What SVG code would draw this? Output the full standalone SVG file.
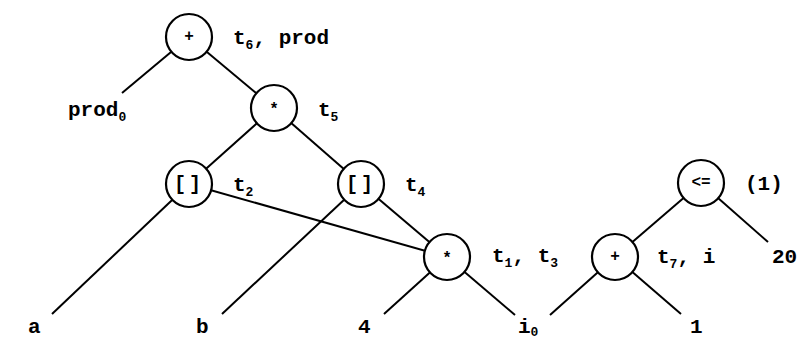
<svg xmlns="http://www.w3.org/2000/svg" width="797" height="341" viewBox="0 0 797 341">
<style>
.e{stroke:#000;stroke-width:2;fill:none}
.n circle{fill:#fff;stroke:#000;stroke-width:2.2}
.op{font-family:"Liberation Mono",monospace;font-weight:bold;font-size:16px;text-anchor:middle;dominant-baseline:central}
.t{font-family:"Liberation Mono",monospace;font-weight:bold;font-size:21px;fill:#000}
.s{font-size:13px}
</style>
<rect width="797" height="341" fill="#fff"/>
<g id="edges">
<line class="e" x1="189" y1="37" x2="122" y2="93"/>
<line class="e" x1="189" y1="37" x2="274" y2="108"/>
<line class="e" x1="274" y1="108" x2="189" y2="184"/>
<line class="e" x1="274" y1="108" x2="361" y2="184"/>
<line class="e" x1="189" y1="184" x2="52" y2="314"/>
<line class="e" x1="189" y1="184" x2="447" y2="257"/>
<line class="e" x1="361" y1="184" x2="222" y2="314"/>
<line class="e" x1="361" y1="184" x2="447" y2="257"/>
<line class="e" x1="447" y1="257" x2="384" y2="314"/>
<line class="e" x1="447" y1="257" x2="515" y2="315"/>
<line class="e" x1="615" y1="257" x2="550" y2="315"/>
<line class="e" x1="615" y1="257" x2="681" y2="314"/>
<line class="e" x1="701" y1="183" x2="615" y2="257"/>
<line class="e" x1="701" y1="183" x2="768" y2="242"/>
</g>
<g id="n_t6" class="n"><circle cx="189" cy="37" r="23"/><text class="op" x="189" y="37">+</text>
<text class="t" x="233" y="44">t<tspan class="s" dy="5">6</tspan><tspan dy="-5">, prod</tspan></text></g>
<g id="n_prod0"><text class="t" x="68" y="116">prod<tspan class="s" dy="5">0</tspan></text></g>
<g id="n_t5" class="n"><circle cx="274" cy="108" r="23"/><text class="op" x="274" y="110">*</text>
<text class="t" x="318" y="116">t<tspan class="s" dy="5">5</tspan></text></g>
<g id="n_t2" class="n"><circle cx="189" cy="184" r="23"/><text class="op" x="189" y="184" style="font-size:20px;letter-spacing:3px">[]</text>
<text class="t" x="233" y="191">t<tspan class="s" dy="5">2</tspan></text></g>
<g id="n_t4" class="n"><circle cx="361" cy="184" r="23"/><text class="op" x="361" y="184" style="font-size:20px;letter-spacing:3px">[]</text>
<text class="t" x="405" y="191">t<tspan class="s" dy="5">4</tspan></text></g>
<g id="n_t1" class="n"><circle cx="447" cy="257" r="23"/><text class="op" x="447" y="259">*</text>
<text class="t" x="492" y="262">t<tspan class="s" dy="5">1</tspan><tspan dy="-5">, t</tspan><tspan class="s" dy="5">3</tspan></text></g>
<g id="n_t7" class="n"><circle cx="615" cy="257" r="23"/><text class="op" x="615" y="257">+</text>
<text class="t" x="657" y="263">t<tspan class="s" dy="5">7</tspan><tspan dy="-5">, i</tspan></text></g>
<g id="n_le" class="n"><circle cx="701" cy="183" r="23"/><text class="op" x="701" y="183">&lt;=</text>
<text class="t" x="745" y="190">(1)</text></g>
<g id="n_20"><text class="t" x="772" y="263">20</text></g>
<g id="n_a"><text class="t" x="28" y="333">a</text></g>
<g id="n_b"><text class="t" x="196" y="333">b</text></g>
<g id="n_4"><text class="t" x="358" y="333">4</text></g>
<g id="n_i0"><text class="t" x="518" y="333">i<tspan class="s" dy="3">0</tspan></text></g>
<g id="n_1"><text class="t" x="690" y="333">1</text></g>
</svg>
